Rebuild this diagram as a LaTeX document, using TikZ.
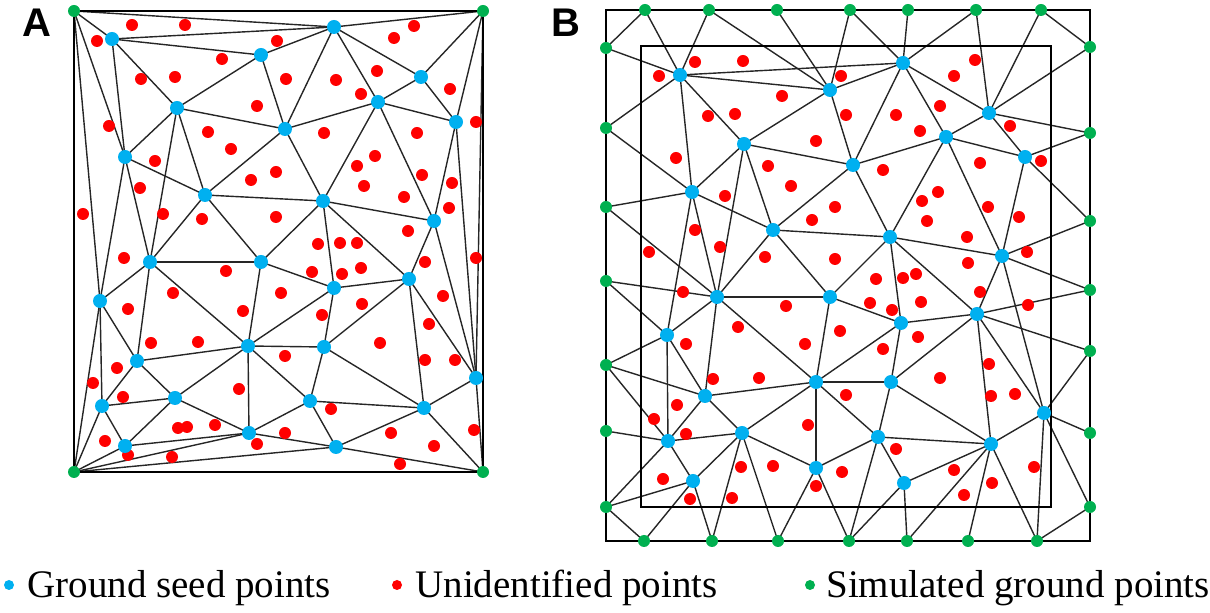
\documentclass[tikz,border=0pt]{standalone}
\usepackage{fontspec}
\setmainfont{Liberation Serif}
\newfontfamily\panelfont{Liberation Sans}

\definecolor{seedblue}{RGB}{0,176,240}
\definecolor{unidred}{RGB}{255,0,0}
\definecolor{simgreen}{RGB}{0,176,80}

\begin{document}
\begin{tikzpicture}[x=0.5pt,y=-0.5pt,
edge/.style={draw=black!85,line width=0.7pt},
frame/.style={draw=black,line width=1.4pt},
seed/.style={circle,fill=seedblue,inner sep=0pt,minimum size=7pt},
unid/.style={circle,fill=unidred,inner sep=0pt,minimum size=6pt},
simu/.style={circle,fill=simgreen,inner sep=0pt,minimum size=6pt},
keydot/.style={circle,inner sep=0pt,minimum size=5pt},
keytext/.style={font=\fontsize{19.5}{22}\selectfont,inner sep=0pt,anchor=base west},
panel/.style={font=\panelfont\bfseries\fontsize{20}{24}\selectfont,inner sep=0pt}]
\useasboundingbox (0,0) rectangle (1210,613);

% ground seed points, panel A and panel B
\foreach \n/\x/\y in {1/112/39,2/261/55,3/334/27,4/421/77,5/378/102,6/177/108,7/285/129,
  8/456/122,9/125/157,10/205/195,11/323/201,12/434/221,13/150/262,14/261/262,15/409/279,
  16/334/288,17/100/301,18/137/361,19/248/346,20/324/347,21/476/378,22/102/406,23/175/398,
  24/310/401,25/424/408,26/125/446,27/249/433,28/336/447}
  \coordinate (a\n) at (\x,\y);
\foreach \n/\x/\y in {1/680/75,2/830/90,3/903/63,4/989/113,5/946/137,6/744/144,7/853/165,
  8/1025/157,9/692/192,10/773/230,11/890/237,12/1002/256,13/717/297,14/830/297,15/977/314,
  16/901/323,17/667/335,18/705/396,19/816/382,20/891/382,21/1044/413,22/668/441,23/742/433,
  24/878/437,25/991/444,26/693/481,27/816/468,28/904/483}
  \coordinate (b\n) at (\x,\y);

% simulated ground points
\coordinate (gTL) at (74,11);
\coordinate (gTR) at (483,11);
\coordinate (gBL) at (74,472);
\coordinate (gBR) at (483,472);
\foreach \n/\x in {1/645,2/709,3/777,4/850,5/908,6/976,7/1041}
  \coordinate (gt\n) at (\x,10);
\foreach \n/\x in {1/644,2/712,3/778,4/849,5/907,6/968,7/1037}
  \coordinate (gd\n) at (\x,541);
\foreach \n/\y in {1/48,2/128,3/207,4/281,5/365,6/431,7/507}
  \coordinate (gl\n) at (606,\y);
\foreach \n/\y in {1/47,2/133,3/221,4/290,5/351,6/433,7/507}
  \coordinate (gr\n) at (1090,\y);

% triangulation
\foreach \i/\j in {1/2,1/3,1/6,1/9,2/3,2/6,2/7,3/4,3/5,3/7,4/5,4/8,5/7,5/8,5/11,5/12,
  6/7,6/9,6/10,6/13,7/10,7/11,8/12,9/10,9/13,9/17,10/11,10/13,10/14,11/12,11/14,11/15,
  11/16,12/15,12/21,13/14,13/17,13/18,13/19,14/16,14/19,15/16,15/20,15/21,15/25,16/19,
  16/20,17/18,17/22,18/19,18/22,18/23,19/20,19/23,19/24,19/27,20/24,20/25,21/25,22/23,
  22/26,23/26,23/27,24/25,24/27,24/28,25/28}
  {\draw[edge] (a\i) -- (a\j); \draw[edge] (b\i) -- (b\j);}
\foreach \i/\j in {8/21,26/27,27/28}
  \draw[edge] (a\i) -- (a\j);
\foreach \g/\j in {TL/1,TL/3,TL/9,TL/17,TR/3,TR/4,TR/8,TR/21,BL/17,BL/22,BL/26,BL/27,
  BL/28,BR/21,BR/25,BR/28}
  \draw[edge] (g\g) -- (a\j);
\foreach \g/\j in {t1/1,t2/1,t2/2,t3/2,t4/2,t4/3,t5/3,t6/3,t6/4,t7/4,r1/4,r2/4,r2/8,
  r3/8,r3/12,r4/12,r4/15,r5/15,r5/21,r6/21,r7/21,d7/21,d7/25,d6/25,d5/25,d5/28,d4/28,
  d4/24,d4/27,d3/27,d3/23,d2/23,d2/26,d1/26,l7/26,l7/22,l6/22,l5/22,l5/18,l5/17,l4/17,
  l4/13,l3/13,l3/9,l2/9,l2/1,l1/1}
  \draw[edge] (g\g) -- (b\j);
\draw[edge] (gt1) -- (gl1);
\draw[edge] (gt7) -- (gr1);
\draw[edge] (gd1) -- (gl7);
\draw[edge] (gd7) -- (gr7);

% frames
\draw[frame] (gTL) -- (gTR) -- (gBR) -- (gBL) -- cycle;
\draw[frame] (606,10) rectangle (1090,541);
\draw[frame] (641,46) rectangle (1051,507);

% unidentified points
\foreach \x/\y [count=\k] in {132/25,185/25,97/41,277/41,222/59,141/79,175/77,257/106,
  109/126,208/132,231/149,155/161,276/172,251/180,140/188,83/214,163/214,202/219,276/217,
  414/26,394/38,286/79,336/80,377/71,361/94,450/89,476/122,324/133,417/133,375/156,
  357/166,422/175,364/186,452/183,404/197,449/208,408/231,318/244,340/243,357/243,
  425/262,476/258,312/272,342/274,361/268,281/293,362/304,443/296,322/315,429/324,
  285/356,380/343,425/360,455/360,331/409,285/433,391/433,434/446,474/430,400/464,
  124/258,226/271,173/293,128/309,243/311,151/343,198/342,117/368,93/383,123/397,
  239/389,178/428,187/427,215/425,257/444,105/441,128/455,172/457}
  \node[unid] (ua\k) at (\x,\y) {};
\foreach \x/\y [count=\k] in {695/62,743/61,659/76,708/116,735/114,676/158,768/166,
  725/196,695/230,720/247,649/252,765/257,841/76,782/96,846/115,896/115,920/131,816/141,
  883/170,791/186,835/207,812/220,922/201,927/221,835/259,876/279,903/278,916/274,
  975/60,954/76,940/106,1010/126,1041/161,980/163,938/192,988/207,1019/217,967/237,
  1027/252,968/263,683/292,738/327,686/344,713/379,759/378,677/405,654/419,686/434,
  741/467,663/479,690/499,732/498,786/306,870/303,892/310,921/302,840/331,805/344,
  883/349,918/337,846/395,808/425,896/449,773/466,842/472,816/486,980/292,1028/305,
  989/364,940/378,991/396,1015/394,1034/467,954/470,992/483,964/495}
  \node[unid] (ub\k) at (\x,\y) {};

% seed and simulated points on top
\foreach \n in {1,...,28}
  {\node[seed] (sa\n) at (a\n) {}; \node[seed] (sb\n) at (b\n) {};}
\foreach \p in {gTL,gTR,gBL,gBR}
  \node[simu] (s\p) at (\p) {};
\foreach \s in {t,d,l,r}
  \foreach \n in {1,...,7}
    \node[simu] (sg\s\n) at (g\s\n) {};

% panel letters
\node[panel] (labA) at (37,23) {A};
\node[panel] (labB) at (566,23) {B};

% legend
\node[keydot,fill=seedblue] (keyseed) at (9,585) {};
\node[keytext] (txtseed) at (27,598) {Ground seed points};
\node[keydot,fill=unidred] (keyunid) at (397,585) {};
\node[keytext] (txtunid) at (415,598) {Unidentified points};
\node[keydot,fill=simgreen] (keysimu) at (810,585) {};
\node[keytext] (txtsimu) at (826,598) {Simulated ground points};
\end{tikzpicture}
\end{document}
